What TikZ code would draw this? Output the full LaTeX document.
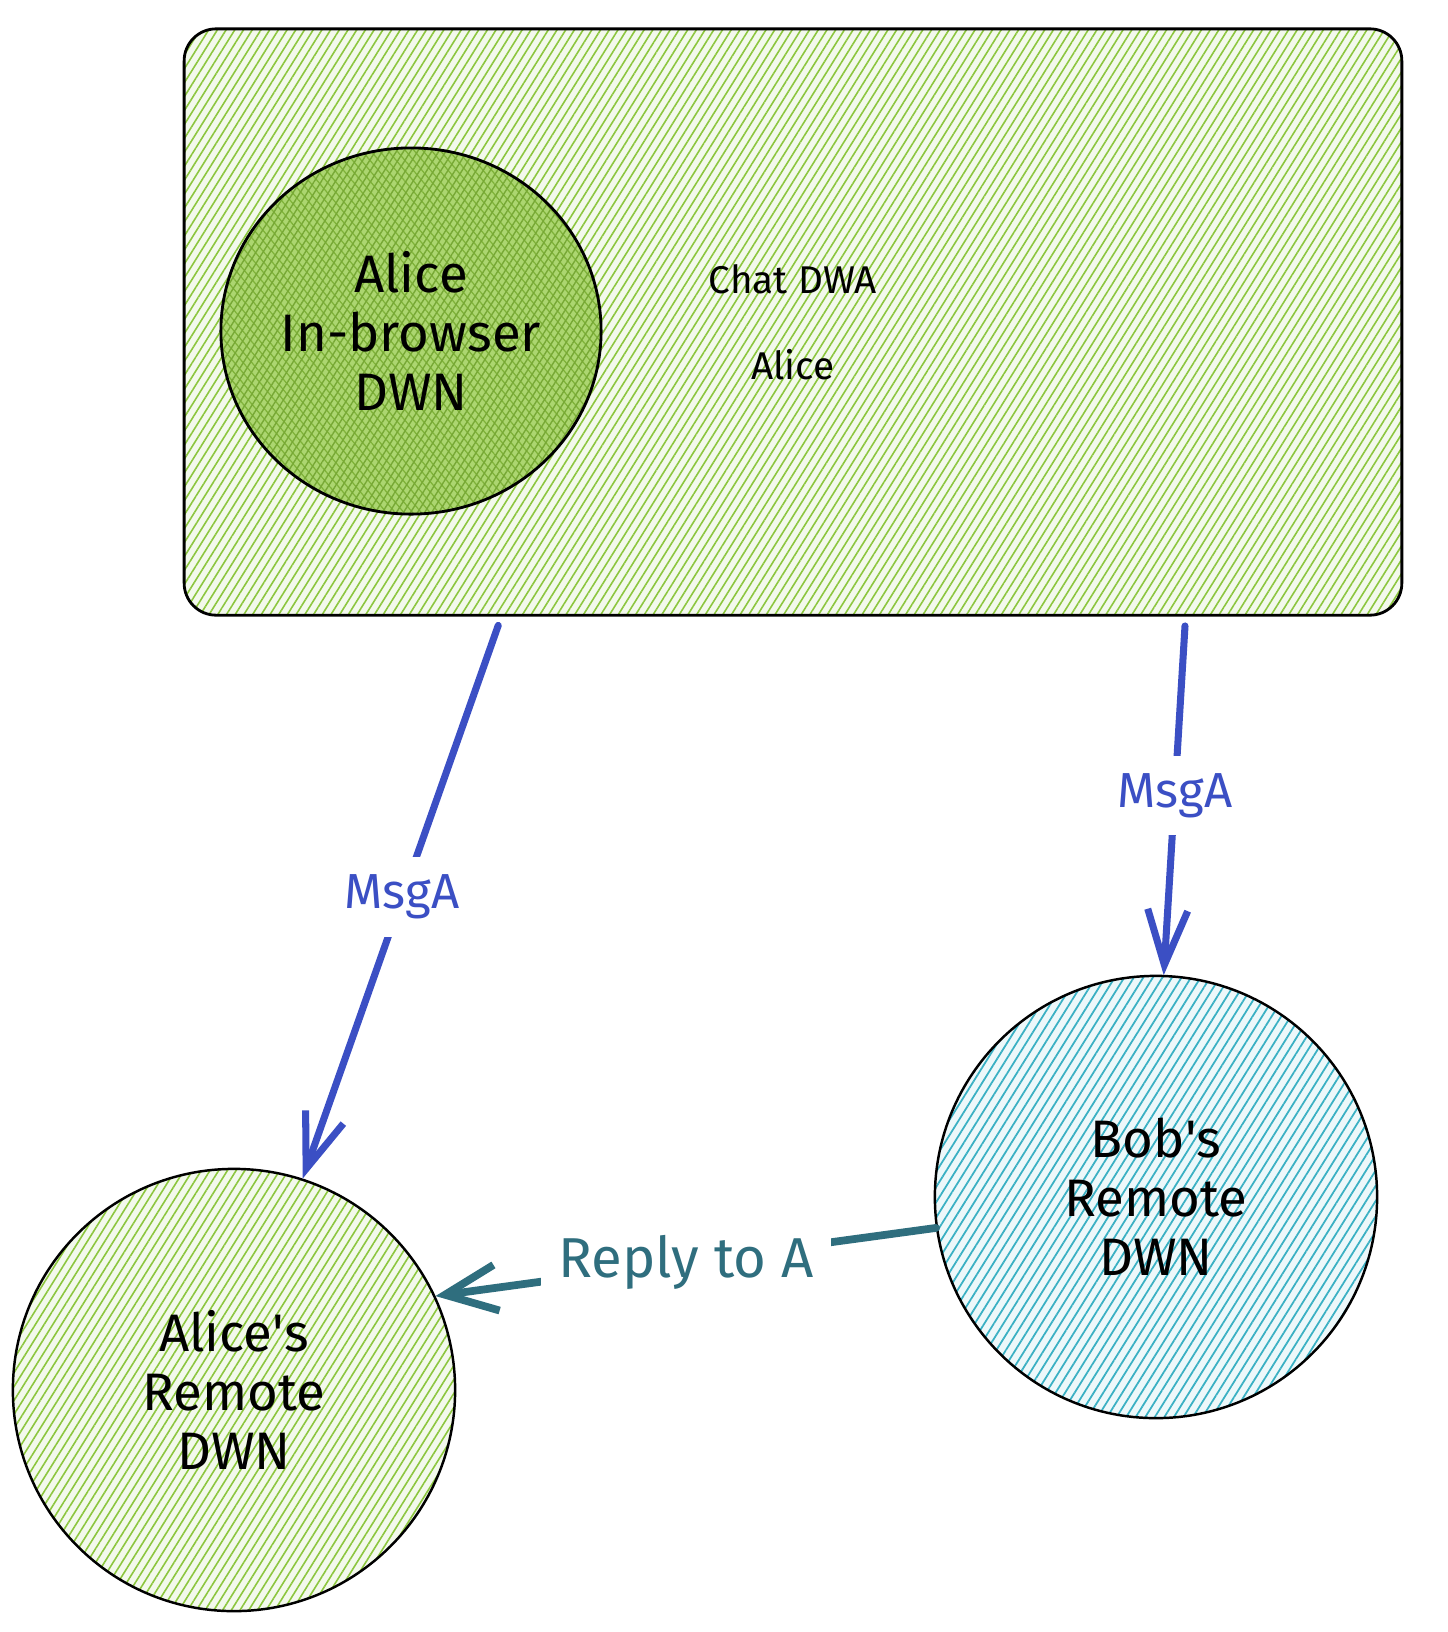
\documentclass[tikz,border=0pt]{standalone}
\usepackage{fontspec}
\setmainfont{Fira Sans}
\usepackage{xcolor}
\usetikzlibrary{arrows.meta, positioning, shapes.geometric, patterns.meta, calc}

\definecolor{limeline}{RGB}{140,198,62}
\definecolor{limesolid}{RGB}{172,214,112}
\definecolor{cyanline}{RGB}{58,176,195}
\definecolor{msgblue}{RGB}{59,79,196}
\definecolor{replyteal}{RGB}{47,110,126}

\tikzset{
  limehatch/.style={preaction={fill=limeline!10}, pattern={Lines[angle=58, distance=2.1pt, line width=0.45pt]}, pattern color=limeline},
  cyanhatch/.style={preaction={fill=cyanline!9}, pattern={Lines[angle=58, distance=2.3pt, line width=0.5pt]}, pattern color=cyanline},
  crosshatch/.style={preaction={fill=limesolid},
    preaction={pattern={Lines[angle=-50, distance=1.9pt, line width=0.35pt]}, pattern color=limeline!90!black},
    pattern={Lines[angle=58, distance=1.7pt, line width=0.4pt]}, pattern color=limeline!85!black},
  dwn/.style={circle, draw=black, line width=0.7pt, minimum size=4.42cm, inner sep=0pt, align=center,
    font=\fontsize{15}{16.8}\selectfont},
  msg/.style={-{Straight Barb[length=5.5mm, width=4mm]}, line width=2pt, line cap=round, draw=msgblue},
  reply/.style={-{Straight Barb[length=5.2mm, width=4.6mm]}, line width=2.2pt, line cap=round, draw=replyteal},
  msglabel/.style={fill=white, text=msgblue, inner sep=5pt, font=\fontsize{14}{16}\selectfont},
  replylabel/.style={fill=white, text=replyteal, inner sep=5pt, font=\fontsize{16}{18}\selectfont},
}

\begin{document}
\begin{tikzpicture}[x=0.01cm, y=-0.01cm]
  \useasboundingbox[fill=white] (0,0) rectangle (1448,1632);

  % Chat app box with the in-browser node inside
  \node[draw=black, line width=0.8pt, rounded corners=0.32cm, limehatch,
        minimum width=12.17cm, minimum height=5.86cm, align=center,
        font=\fontsize{11}{13}\selectfont] (app) at (793,322) {Chat DWA\\[11.5pt]Alice};
  \node[ellipse, draw=black, line width=0.8pt, crosshatch, minimum width=3.8cm, minimum height=3.66cm,
        inner sep=0pt, align=center, font=\fontsize{15}{16.8}\selectfont] (browser) at (411,331)
        {Alice\\In-browser\\DWN};

  % Remote nodes
  \node[dwn, limehatch] (aliceR) at (234,1390) {Alice\textquotesingle s\\Remote\\DWN};
  \node[dwn, cyanhatch] (bobR) at (1156,1197) {Bob\textquotesingle s\\Remote\\DWN};

  % Messages
  \coordinate (outA) at ($(app.south west)!0.261!(app.south east)$);
  \coordinate (outB) at ($(app.south west)!0.822!(app.south east)$);
  \draw[msg, shorten <=1mm] (outA) -- node[msglabel]{MsgA} (aliceR.72);
  \draw[msg, shorten <=1mm] (outB) -- node[msglabel]{MsgA} (bobR.88);
  \draw[reply] (bobR.188) -- node[replylabel]{Reply to A} (aliceR.25);
\end{tikzpicture}
\end{document}
